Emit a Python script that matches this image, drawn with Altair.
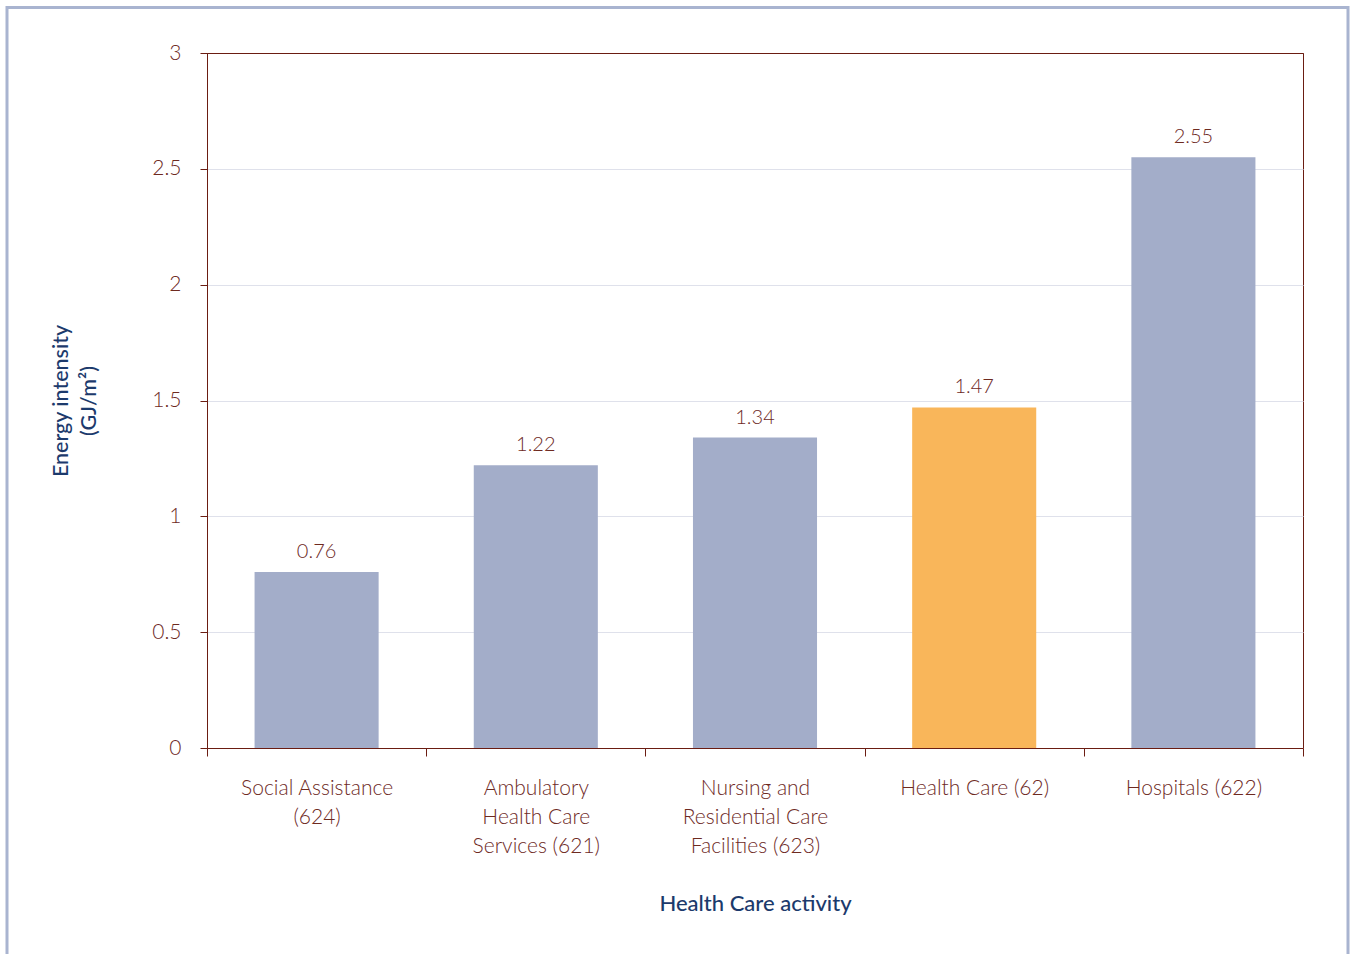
import altair as alt
import pandas as pd

# Energy intensity by health care activity (NAICS code in brackets)
categories = [
    "Social Assistance|(624)",
    "Ambulatory|Health Care|Services (621)",
    "Nursing and|Residential Care|Facilities (623)",
    "Health Care (62)",
    "Hospitals (622)",
]
values = [0.76, 1.22, 1.34, 1.47, 2.55]
bar_colors = ["#a3adc9", "#a3adc9", "#a3adc9", "#f9b65a", "#a3adc9"]
y_ticks = [0, 0.5, 1, 1.5, 2, 2.5, 3]

df = pd.DataFrame({"activity": categories, "value": values, "color": bar_colors})

FONT = "Lato"
TEXT_RED = "#6e2a1f"
AXIS_RED = "#6b1d12"
NAVY = "#1c3a6c"

W, H = 1096, 695
PAD_L, PAD_T = 207, 53
BAR_FRAC = 0.566

x_scale = alt.Scale(paddingInner=0, paddingOuter=0)

x_enc = alt.X(
    "activity:N",
    sort=None,
    scale=x_scale,
    axis=alt.Axis(
        title="Health Care activity",
        labelExpr="split(datum.label, '|')",
        labelAngle=0,
        labelFont=FONT,
        labelFontSize=21,
        labelFontWeight=300,
        labelColor=TEXT_RED,
        labelLineHeight=29,
        labelPadding=21,
        labelBaseline="top",
        tickBand="extent",
        tickSize=8,
        tickColor=AXIS_RED,
        domainColor=AXIS_RED,
        titleFont=FONT,
        titleFontSize=22,
        titleFontWeight=500,
        titleColor=NAVY,
        titleBaseline="middle",
        titleY=155,
    ),
)

y_enc = alt.Y(
    "value:Q",
    scale=alt.Scale(domain=[0, 3], nice=False),
    axis=alt.Axis(
        title=["Energy intensity", "(GJ/m²)"],
        values=y_ticks,
        format="~g",
        grid=True,
        gridColor=alt.condition("datum.value == 3", alt.value(AXIS_RED), alt.value("#dfe1eb")),
        labelFont=FONT,
        labelFontSize=21,
        labelFontWeight=300,
        labelColor=TEXT_RED,
        labelPadding=19,
        tickSize=7,
        tickColor=AXIS_RED,
        domainColor=AXIS_RED,
        titleFont=FONT,
        titleFontSize=21.5,
        titleFontWeight=500,
        titleColor=NAVY,
        titleLineHeight=28,
        titleAngle=-90,
        titleBaseline="middle",
        titleAlign="center",
        titleX=-146,
        titleY=H / 2,
    ),
)

bars = alt.Chart(df).mark_bar(width=alt.RelativeBandSize(BAR_FRAC)).encode(
    x=x_enc,
    y=y_enc,
    color=alt.Color("color:N", scale=None),
)

labels = alt.Chart(df).mark_text(
    baseline="bottom", dy=-10, font=FONT, fontSize=20, fontWeight=300, color=TEXT_RED
).encode(
    x=alt.X("activity:N", sort=None, scale=x_scale),
    y=alt.Y("value:Q"),
    text=alt.Text("value:Q", format=".2f"),
)

# light outer frame around the whole figure
frame = alt.Chart(pd.DataFrame({"k": [0]})).mark_rect(
    fill=None, stroke="#a9b4d0", strokeWidth=3
).encode(
    x=alt.value(7 - PAD_L),
    x2=alt.value(1348 - PAD_L),
    y=alt.value(7.5 - PAD_T),
    y2=alt.value(1000),
)

chart = (
    alt.layer(bars, labels, frame)
    .properties(
        width=W,
        height=H,
        autosize=alt.AutoSizeParams(type="none"),
        padding={"left": PAD_L, "top": PAD_T, "right": 1351 - PAD_L - W, "bottom": 954 - PAD_T - H},
        background="white",
    )
    .configure_view(stroke=AXIS_RED, strokeWidth=1)
)

chart.save("out.html", embed_options={"renderer": "svg", "actions": False})
